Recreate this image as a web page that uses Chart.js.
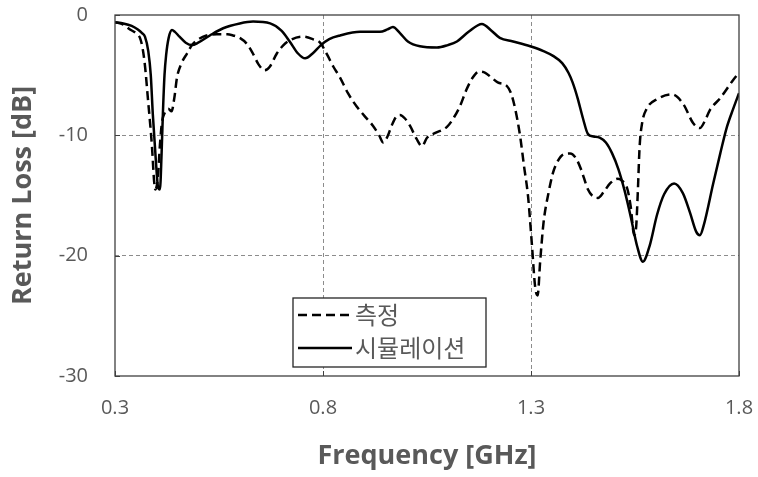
<!DOCTYPE html>
<html><head><meta charset="utf-8">
<script src="https://cdn.jsdelivr.net/npm/chart.js@4"></script>
<style>html,body{margin:0;padding:0;background:#fff}canvas{display:block}</style>
</head><body>
<canvas id="c" width="758" height="477"></canvas>
<script>
const seriesLabels = ['측정', '시뮬레이션'];
const xTicks = [0.3, 0.8, 1.3, 1.8];
const yTicks = [0, -10, -20, -30];

const measFreq = [0.300,0.320,0.336,0.350,0.360,0.366,0.372,0.379,0.389,0.394,0.397,0.403,0.408,0.413,0.420,0.428,0.436,0.443,0.449,0.460,0.473,0.485,0.497,0.520,0.545,0.570,0.584,0.600,0.617,0.630,0.645,0.660,0.672,0.689,0.705,0.720,0.752,0.775,0.793,0.810,0.825,0.841,0.860,0.881,0.900,0.920,0.935,0.945,0.955,0.965,0.975,0.985,0.997,1.009,1.025,1.038,1.050,1.070,1.098,1.115,1.129,1.145,1.160,1.175,1.190,1.205,1.220,1.242,1.252,1.262,1.274,1.283,1.293,1.302,1.310,1.316,1.322,1.330,1.342,1.353,1.365,1.377,1.394,1.408,1.420,1.437,1.450,1.461,1.475,1.490,1.509,1.520,1.532,1.540,1.548,1.553,1.557,1.561,1.567,1.578,1.603,1.639,1.666,1.690,1.706,1.718,1.730,1.755,1.786,1.800];
const measDb = [-0.6,-0.8,-1.2,-1.5,-1.9,-2.7,-4.2,-6.9,-11.0,-13.8,-14.5,-13.5,-10.8,-8.9,-8.1,-7.8,-8.0,-6.8,-5.2,-4.0,-3.2,-2.5,-2.1,-1.7,-1.6,-1.6,-1.7,-1.9,-2.4,-3.1,-4.1,-4.6,-4.3,-3.2,-2.5,-2.1,-1.8,-2.0,-2.3,-3.3,-4.3,-5.2,-6.5,-7.6,-8.4,-9.2,-10.0,-10.6,-10.1,-9.2,-8.5,-8.3,-8.6,-9.2,-10.3,-10.9,-10.2,-9.8,-9.3,-8.5,-7.6,-6.2,-5.2,-4.7,-4.8,-5.2,-5.6,-5.9,-6.5,-7.8,-10.1,-12.5,-15.1,-19.0,-22.6,-23.3,-20.5,-17.3,-14.8,-13.1,-12.1,-11.6,-11.5,-11.9,-12.8,-14.5,-15.1,-15.2,-14.7,-14.0,-13.6,-13.8,-14.5,-16.0,-18.3,-17.5,-14.5,-11.0,-9.0,-7.8,-7.0,-6.6,-7.4,-9.0,-9.4,-8.8,-7.9,-6.9,-5.4,-4.8];

const simFreq = [0.300,0.320,0.340,0.355,0.365,0.372,0.380,0.386,0.391,0.398,0.404,0.408,0.412,0.415,0.419,0.423,0.429,0.437,0.444,0.455,0.470,0.485,0.500,0.528,0.560,0.600,0.632,0.673,0.700,0.720,0.740,0.757,0.775,0.795,0.815,0.841,0.889,0.937,0.955,0.968,0.985,1.004,1.033,1.074,1.100,1.122,1.150,1.182,1.205,1.225,1.257,1.298,1.330,1.353,1.375,1.390,1.400,1.412,1.425,1.437,1.450,1.465,1.480,1.495,1.510,1.525,1.540,1.555,1.569,1.585,1.603,1.620,1.644,1.665,1.682,1.697,1.706,1.715,1.738,1.755,1.771,1.786,1.800];
const simDb = [-0.6,-0.7,-0.9,-1.2,-1.5,-1.8,-3.0,-5.0,-8.3,-12.0,-14.4,-14.5,-11.5,-8.3,-5.0,-3.3,-1.9,-1.25,-1.4,-1.8,-2.3,-2.5,-2.3,-1.7,-1.1,-0.7,-0.55,-0.7,-1.3,-2.2,-3.2,-3.6,-3.2,-2.5,-2.0,-1.7,-1.4,-1.4,-1.2,-1.0,-1.5,-2.2,-2.6,-2.7,-2.5,-2.2,-1.4,-0.75,-1.3,-1.9,-2.2,-2.6,-3.0,-3.4,-4.0,-4.8,-5.6,-6.9,-8.6,-9.9,-10.1,-10.2,-10.6,-11.5,-12.8,-14.6,-16.8,-19.2,-20.5,-19.2,-16.6,-14.9,-14.0,-14.8,-16.4,-18.0,-18.3,-17.5,-14.0,-11.5,-9.3,-7.8,-6.5];

const toPts = (xs, ys) => xs.map((x, i) => ({x: x, y: ys[i]}));
const GRAY = '#595959';
const FONT = "'Open Sans','Noto Sans CJK KR',sans-serif";
const zeroPad = s => { s.paddingLeft = 0; s.paddingRight = 0; s.paddingTop = 0; s.paddingBottom = 0; };

const framePlugin = {
  id: 'frame',
  afterDatasetsDraw(chart) {
    const {ctx, chartArea: a, scales} = chart;
    ctx.save();
    ctx.strokeStyle = '#404040';
    ctx.lineWidth = 1.3;
    ctx.strokeRect(a.left, a.top, a.right - a.left, a.bottom - a.top);
    ctx.lineWidth = 1;
    yTicks.forEach(v => {
      const y = Math.round(scales.y.getPixelForValue(v)) + 0.5;
      ctx.beginPath(); ctx.moveTo(a.left, y); ctx.lineTo(a.left + 5, y); ctx.stroke();
    });
    xTicks.forEach(v => {
      const x = Math.round(scales.x.getPixelForValue(v)) + 0.5;
      ctx.beginPath(); ctx.moveTo(x, a.bottom); ctx.lineTo(x, a.bottom - 5); ctx.stroke();
    });
    ctx.restore();
  },
  afterDraw(chart) {
    const {ctx} = chart;
    const bx = 293, by = 298, bw = 193, bh = 69;
    ctx.save();
    ctx.fillStyle = '#fff';
    ctx.fillRect(bx, by, bw, bh);
    ctx.strokeStyle = '#262626';
    ctx.lineWidth = 1.3;
    ctx.strokeRect(bx, by, bw, bh);
    const rows = [315, 348];
    chart.data.datasets.forEach((ds, i) => {
      const y = rows[i];
      ctx.strokeStyle = ds.borderColor;
      ctx.lineWidth = ds.borderWidth;
      ctx.setLineDash(ds.borderDash || []);
      ctx.beginPath(); ctx.moveTo(298, y); ctx.lineTo(352, y); ctx.stroke();
      ctx.setLineDash([]);
      ctx.fillStyle = GRAY;
      ctx.font = "24px 'Noto Sans CJK KR',sans-serif";
      ctx.textBaseline = 'middle';
      ctx.textAlign = 'left';
      ctx.fillText(ds.label, 355, y);
    });
    ctx.restore();
  }
};

new Chart(document.getElementById('c'), {
  type: 'line',
  data: {
    datasets: [
      {label: seriesLabels[0], data: toPts(measFreq, measDb), borderColor: '#000', borderWidth: 2.5, borderDash: [9, 5], pointRadius: 0, cubicInterpolationMode: 'monotone', fill: false},
      {label: seriesLabels[1], data: toPts(simFreq, simDb), borderColor: '#000', borderWidth: 2.5, pointRadius: 0, cubicInterpolationMode: 'monotone', fill: false}
    ]
  },
  options: {
    responsive: false,
    animation: false,
    devicePixelRatio: 1,
    layout: {padding: {left: 0, right: 19, top: 15, bottom: 0}},
    plugins: {legend: {display: false}, tooltip: {enabled: false}},
    scales: {
      x: {
        type: 'linear', min: 0.3, max: 1.8,
        afterBuildTicks: s => { s.ticks = xTicks.map(v => ({value: v})); },
        afterFit: s => { s.height = 101; zeroPad(s); },
        grid: {drawTicks: false, color: c => (c.tick && (c.tick.value === 0.8 || c.tick.value === 1.3)) ? '#8c8c8c' : 'rgba(0,0,0,0)', lineWidth: 1},
        border: {display: false, dash: [4, 3]},
        ticks: {color: GRAY, font: {family: FONT, size: 20}, padding: 20, maxRotation: 0, callback: v => Number(v).toFixed(1)},
        title: {display: true, text: 'Frequency [GHz]', color: GRAY, font: {family: FONT, size: 27, weight: 'bold'}, padding: {top: 0, bottom: 4}}
      },
      y: {
        type: 'linear', min: -30, max: 0,
        afterBuildTicks: s => { s.ticks = yTicks.map(v => ({value: v})); },
        afterFit: s => { s.width = 115; zeroPad(s); },
        grid: {drawTicks: false, color: c => (c.tick && (c.tick.value === -10 || c.tick.value === -20)) ? '#8c8c8c' : 'rgba(0,0,0,0)', lineWidth: 1},
        border: {display: false, dash: [4, 3]},
        ticks: {color: GRAY, font: {family: FONT, size: 20}, padding: 27, callback: v => String(v)},
        title: {display: true, text: 'Return Loss [dB]', color: GRAY, font: {family: FONT, size: 27, weight: 'bold'}, padding: {top: 7, bottom: 0}}
      }
    }
  },
  plugins: [framePlugin]
});
</script>
</body></html>
